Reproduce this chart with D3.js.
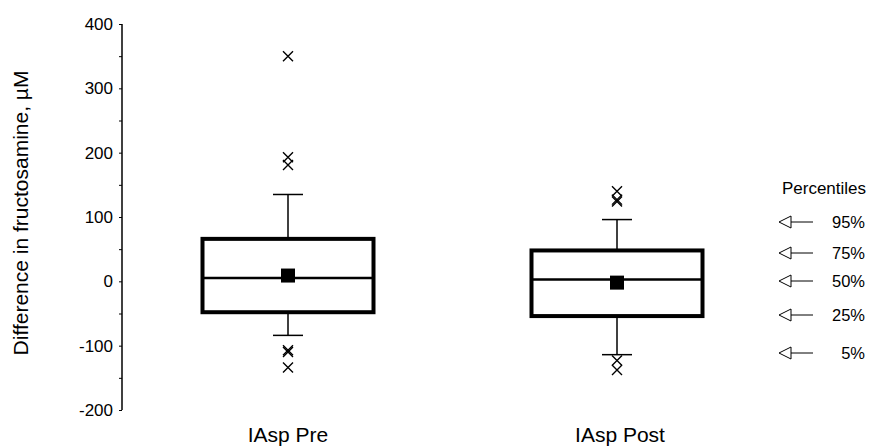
<!DOCTYPE html>
<meta charset="utf-8">
<head>
  <style>
    body { margin: 0; background: #fff; }
    text { font-family: Arial, "Liberation Sans", sans-serif; fill: #000; }
  </style>
</head>
<body>
  <script src="https://d3js.org/d3.v7.min.js"></script>
  <div id="chart"></div>
  <script>
    var width = 869,
      height = 446;

    // box statistics
    var groups = ["IAsp Pre", "IAsp Post"];
    var p5 = [-84, -114];
    var p25 = [-48, -54];
    var p50 = [5, 3];
    var p75 = [66, 48];
    var p95 = [135, 96];
    var means = [9, -2];
    var outliers = [
      [350, 193, 181, -107, -110, -134],
      [140, 124, 127, -123, -138]
    ];
    var yTicks = [-200, -100, 0, 100, 200, 300, 400];
    var legendLabels = ["95%", "75%", "50%", "25%", "5%"];

    var svg = d3.select('#chart')
      .append('svg')
      .attr('width', width)
      .attr('height', height);

    var y = d3.scaleLinear().domain([-200, 400]).range([410, 24]);
    var x = d3.scalePoint().domain(groups).range([288, 617]);
    var boxW = 171;

    // y axis, minor ticks every 50
    var yAxis = d3.axisLeft(y)
      .tickValues(d3.range(-200, 401, 50))
      .tickSize(3)
      .tickFormat(d => yTicks.includes(d) ? d : "");
    var ax = svg.append('g')
      .attr('transform', 'translate(122,0)')
      .call(yAxis);
    ax.select('.domain').attr('stroke-width', 1.5).attr('d', 'M0,' + y(400) + 'V' + y(-200));
    ax.selectAll('.tick line').attr('stroke-width', 1);
    ax.selectAll('.tick text')
      .attr('x', -9)
      .attr('font-size', 17)
      .attr('font-family', 'Arial, "Liberation Sans", sans-serif');

    svg.append('text')
      .attr('transform', 'translate(28,' + 213 + ') rotate(-90)')
      .attr('text-anchor', 'middle')
      .attr('font-size', 21)
      .text('Difference in fructosamine, µM');

    var idx = d3.range(groups.length);
    var g = svg.selectAll('g.box')
      .data(idx)
      .enter()
      .append('g')
      .attr('class', 'box');

    // whiskers
    g.append('line')
      .attr('x1', i => x(groups[i])).attr('x2', i => x(groups[i]))
      .attr('y1', i => y(p95[i])).attr('y2', i => y(p75[i]))
      .attr('stroke', '#000').attr('stroke-width', 1.5);
    g.append('line')
      .attr('x1', i => x(groups[i])).attr('x2', i => x(groups[i]))
      .attr('y1', i => y(p25[i])).attr('y2', i => y(p5[i]))
      .attr('stroke', '#000').attr('stroke-width', 1.5);
    [p95, p5].forEach(arr => {
      g.append('line')
        .attr('x1', i => x(groups[i]) - 15).attr('x2', i => x(groups[i]) + 15)
        .attr('y1', i => y(arr[i])).attr('y2', i => y(arr[i]))
        .attr('stroke', '#000').attr('stroke-width', 1.5);
    });

    // box
    g.append('rect')
      .attr('x', i => x(groups[i]) - boxW / 2)
      .attr('width', boxW)
      .attr('y', i => y(p75[i]))
      .attr('height', i => y(p25[i]) - y(p75[i]))
      .attr('fill', 'none')
      .attr('stroke', '#000')
      .attr('stroke-width', 4);

    // median
    g.append('line')
      .attr('x1', i => x(groups[i]) - boxW / 2).attr('x2', i => x(groups[i]) + boxW / 2)
      .attr('y1', i => y(p50[i])).attr('y2', i => y(p50[i]))
      .attr('stroke', '#000').attr('stroke-width', 2.5);

    // mean
    g.append('rect')
      .attr('x', i => x(groups[i]) - 7)
      .attr('y', i => y(means[i]) - 7)
      .attr('width', 14).attr('height', 14)
      .attr('fill', '#000');

    // outliers
    g.selectAll('path.out')
      .data(i => outliers[i].map(v => [i, v]))
      .enter()
      .append('path')
      .attr('class', 'out')
      .attr('d', d => {
        var cx = x(groups[d[0]]), cy = y(d[1]);
        return 'M' + (cx - 5) + ',' + (cy - 5) + 'L' + (cx + 5) + ',' + (cy + 5) +
          'M' + (cx + 5) + ',' + (cy - 5) + 'L' + (cx - 5) + ',' + (cy + 5);
      })
      .attr('stroke', '#000')
      .attr('stroke-width', 1.4)
      .attr('fill', 'none');

    // group labels
    svg.selectAll('text.cat')
      .data(groups)
      .enter()
      .append('text')
      .attr('class', 'cat')
      .attr('x', (d, i) => x(d) + i * 3)
      .attr('y', 442)
      .attr('text-anchor', 'middle')
      .attr('font-size', 21)
      .text(d => d);

    // percentile legend
    svg.append('text')
      .attr('x', 824)
      .attr('y', 194)
      .attr('text-anchor', 'middle')
      .attr('font-size', 17)
      .text('Percentiles');

    var legY = [222, 253, 281, 315, 353];
    var leg = svg.selectAll('g.leg')
      .data(legendLabels)
      .enter()
      .append('g')
      .attr('class', 'leg')
      .attr('transform', (d, i) => 'translate(0,' + legY[i] + ')');
    leg.append('path')
      .attr('d', 'M779,0L791,-6L791,6Z')
      .attr('fill', '#fff')
      .attr('stroke', '#000')
      .attr('stroke-width', 1);
    leg.append('line')
      .attr('x1', 791).attr('x2', 813)
      .attr('stroke', '#000').attr('stroke-width', 1);
    leg.append('text')
      .attr('x', 865)
      .attr('y', 6)
      .attr('text-anchor', 'end')
      .attr('font-size', 16.5)
      .text(d => d);
  </script>
</body>
